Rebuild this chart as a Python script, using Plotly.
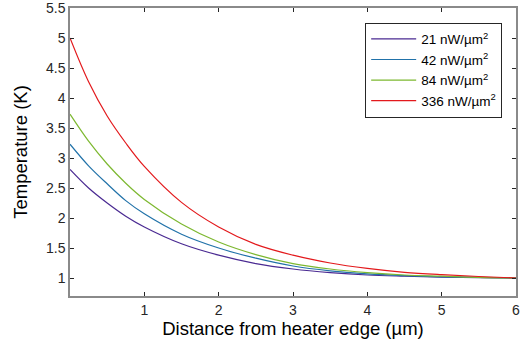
import plotly.graph_objects as go

distance = [0, 0.25, 0.5, 0.75, 1.0, 1.5, 2.0, 2.5, 3.0, 3.5, 4.0, 4.5, 5.0, 5.5, 6.0]

temp_21 = [2.81, 2.50, 2.25, 2.03, 1.85, 1.57, 1.38, 1.24, 1.15, 1.09, 1.05, 1.03, 1.015, 1.005, 1.00]
temp_42 = [3.23, 2.87, 2.57, 2.29, 2.07, 1.73, 1.50, 1.33, 1.20, 1.12, 1.07, 1.04, 1.02, 1.01, 1.00]
temp_84 = [3.73, 3.28, 2.90, 2.58, 2.31, 1.90, 1.60, 1.39, 1.24, 1.15, 1.09, 1.05, 1.03, 1.01, 1.00]
temp_336 = [5.00, 4.27, 3.70, 3.25, 2.86, 2.26, 1.85, 1.56, 1.38, 1.25, 1.16, 1.095, 1.055, 1.025, 1.00]

series_names = ["21 nW/µm<sup>2</sup>", "42 nW/µm<sup>2</sup>", "84 nW/µm<sup>2</sup>", "336 nW/µm<sup>2</sup>"]
series_values = [temp_21, temp_42, temp_84, temp_336]
colors = ["#4a2a92", "#2172a9", "#7db830", "#e3191c"]

x_ticks = [1, 2, 3, 4, 5, 6]
y_ticks = [1, 1.5, 2, 2.5, 3, 3.5, 4, 4.5, 5, 5.5]

fig = go.Figure()
for name, vals, c in zip(series_names, series_values, colors):
    fig.add_trace(go.Scatter(x=distance, y=vals, mode="lines", name=name,
                             line=dict(color=c, width=1.2, shape="spline", smoothing=1.0)))

font_family = "Liberation Sans, Arial, sans-serif"
axis_common = dict(showgrid=False, zeroline=False, showline=True, linecolor="#8a8a8a",
                   linewidth=1.5, mirror="allticks", ticks="inside", ticklen=4,
                   tickcolor="#262626", tickwidth=1, automargin=False,
                   ticklabeloverflow="allow",
                   tickfont=dict(size=14, color="#262626", family=font_family))

fig.update_layout(
    width=520, height=347,
    margin=dict(l=70, r=4, t=8, b=51),
    paper_bgcolor="white", plot_bgcolor="white",
    font=dict(family=font_family, color="#262626"),
    xaxis=dict(range=[0, 6], tickvals=x_ticks, ticktext=[str(v) for v in x_ticks],
               title=dict(text="Distance from heater edge (µm)", font=dict(size=18.5, color="#000"), standoff=4),
               **axis_common),
    yaxis=dict(range=[0.7, 5.5], tickvals=y_ticks, ticktext=[f"{v:g}" for v in y_ticks],
               title=dict(text="Temperature (K)", font=dict(size=18.5, color="#000"), standoff=14),
               **axis_common),
    legend=dict(x=0.969, y=0.949, xanchor="right", yanchor="top",
                bgcolor="white", bordercolor="#262626", borderwidth=1,
                font=dict(size=13.5, color="#000", family=font_family),
                itemwidth=45, tracegroupgap=0),
    showlegend=True,
)

fig.write_html("out.html", config={"displayModeBar": False},
               post_script="document.body.style.margin='0';")
